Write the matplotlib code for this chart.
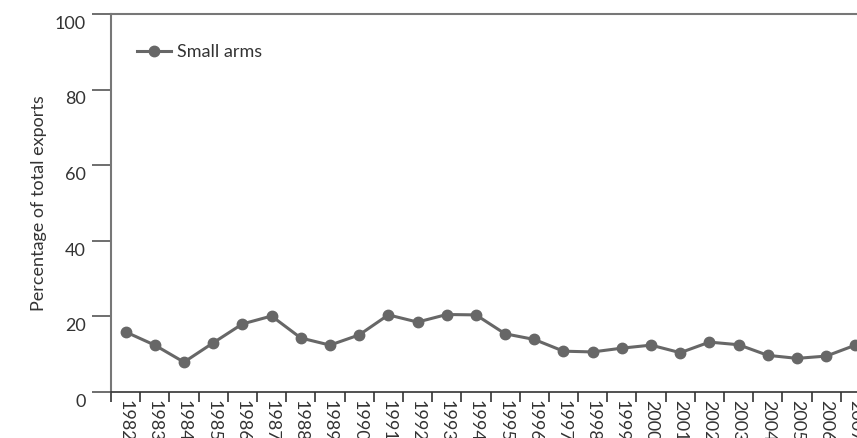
import matplotlib.pyplot as plt
import matplotlib.transforms as mtransforms
import numpy as np

plt.rcParams['font.family'] = ['Lato', 'DejaVu Sans']

years = [str(y) for y in range(1982, 2008)]
small_arms = [15.9, 12.4, 7.9, 13.0, 18.0, 20.1, 14.3, 12.4, 15.1, 20.4, 18.5, 20.5, 20.4,
              15.4, 13.9, 10.8, 10.6, 11.6, 12.4, 10.4, 13.2, 12.5, 9.7, 8.9, 9.5, 12.4]
y_ticks = [0, 20, 40, 60, 80, 100]

fig = plt.figure(figsize=(8.57, 4.38), dpi=100)
# axes run past the right edge of the figure, as in the cropped original
ax = fig.add_axes([111 / 857, 46 / 438, 759 / 857, 378 / 438])

x = np.arange(len(years))
ax.plot(x, small_arms, color='#676767', lw=2.2, marker='o', ms=7.5,
        label='Small arms', clip_on=False)

ax.set_xlim(-0.5, len(years) - 0.5)
ax.set_ylim(0, 100)

# y axis
ax.set_yticks(y_ticks)
ax.tick_params(axis='y', direction='out', length=14, width=1.2, color='#555555',
               labelsize=13, labelcolor='#333333', pad=4)
offset = mtransforms.ScaledTranslation(0, -6 / 72, fig.dpi_scale_trans)
for lab in ax.get_yticklabels():
    lab.set_transform(lab.get_transform() + offset)
ax.set_ylabel('Percentage of total exports', fontsize=13, color='#333333', labelpad=6)

# x axis: ticks on the boundaries, labels in the middle
ax.set_xticks(np.arange(len(years) + 1) - 0.5)
ax.set_xticklabels([])
ax.tick_params(axis='x', direction='out', length=7, width=1.2, color='#333333')
ax.set_xticks(x, minor=True)
ax.set_xticklabels(years, minor=True, rotation=270, fontsize=13, color='#333333')
ax.tick_params(axis='x', which='minor', length=0, pad=5.5)

ax.spines['right'].set_visible(False)
ax.spines['left'].set_color('#777777')
ax.spines['left'].set_linewidth(1.5)
ax.spines['top'].set_color('#777777')
ax.spines['top'].set_linewidth(1.5)
ax.spines['bottom'].set_color('#333333')
ax.spines['bottom'].set_linewidth(1.2)

ax.legend(loc='center left', bbox_to_anchor=(0.034, 0.899), frameon=False, fontsize=13,
          handlelength=1.9, handletextpad=0.35, labelcolor='#333333',
          borderaxespad=0, borderpad=0)

fig.savefig('out.png', dpi=100)
